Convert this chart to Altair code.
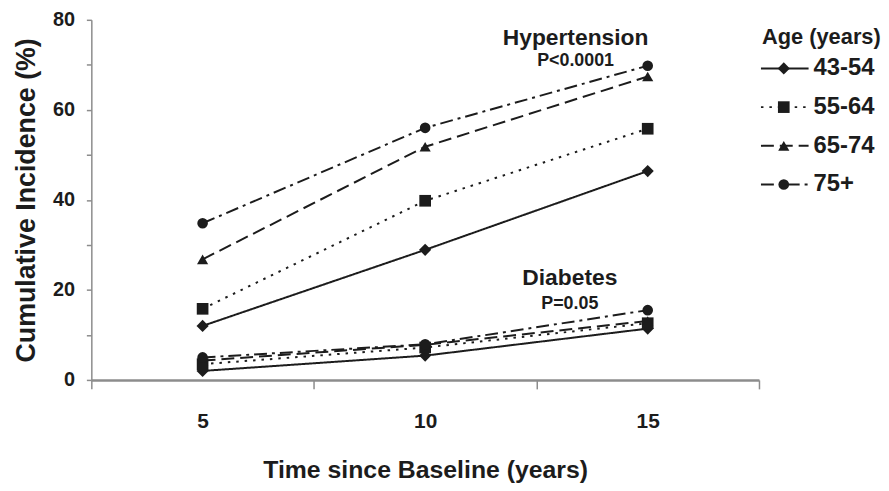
import altair as alt
import pandas as pd

# ---------------- data ----------------
ages = ["43-54", "55-64", "65-74", "75+"]
years = [5, 10, 15]
hypertension = {
    "43-54": [12.0, 28.9, 46.4],
    "55-64": [15.8, 39.8, 55.8],
    "65-74": [26.8, 51.8, 67.4],
    "75+": [34.8, 56.0, 69.8],
}
diabetes = {
    "43-54": [2.0, 5.4, 11.4],
    "55-64": [3.5, 7.2, 12.6],
    "65-74": [4.3, 7.8, 13.1],
    "75+": [5.0, 7.9, 15.5],
}
note_titles = ["Hypertension", "Diabetes"]
note_pvalues = ["P<0.0001", "P=0.05"]

rows = []
for disease, src in [("Hypertension", hypertension), ("Diabetes", diabetes)]:
    for a in ages:
        for t, v in zip(years, src[a]):
            rows.append({"disease": disease, "age": a, "year": t, "value": v})
df = pd.DataFrame(rows)

# annotation anchors (data coordinates)
notes = pd.DataFrame({
    "label": note_titles + note_pvalues,
    "kind": ["title", "title", "p", "p"],
    "x": [13.38, 13.25, 13.38, 13.25],
    "y": [74.3, 21.2, 69.7, 15.7],
})

FONT = "Liberation Sans"
INK = "#1c1c1c"
AX = "#8c8c8c"

xscale = alt.Scale(domain=[2.5, 17.5], nice=False, zero=False)
yscale = alt.Scale(domain=[0, 80], nice=False)
dash_scale = alt.Scale(domain=ages, range=[[1, 0], [2.5, 6], [13, 6], [13, 5, 3, 5]])
shape_scale = alt.Scale(domain=ages, range=["diamond", "square", "triangle-up", "circle"])
size_scale = alt.Scale(domain=ages, range=[150, 115, 120, 115])
leg_size_scale = alt.Scale(domain=ages, range=[110, 90, 95, 90])

y_axis = alt.Axis(
    values=list(range(0, 81, 10)),
    labelExpr="datum.value % 20 === 0 ? datum.label : ''",
    tickSize=5, tickColor=AX, tickWidth=1.5,
    domainColor=AX, domainWidth=1.5, grid=False,
    labelFont=FONT, labelFontSize=20, labelFontWeight="bold", labelColor=INK,
    labelPadding=12,
    title="Cumulative Incidence (%)", titleFont=FONT, titleFontSize=27,
    titleFontWeight="bold", titleColor=INK, titlePadding=12,
)


def y_enc(field):
    return alt.Y(field, scale=yscale, axis=y_axis)


lines = alt.Chart(df).mark_line(color=INK, strokeWidth=2).encode(
    x=alt.X("year:Q", scale=xscale, axis=alt.Axis(
        orient="bottom", values=[2.5, 7.5, 12.5, 17.5], labels=False,
        tickSize=9, tickColor=AX, tickWidth=1.5, domainColor=AX, domainWidth=2.5,
        grid=False, title="Time since Baseline (years)", titleFont=FONT,
        titleFontSize=25, titleFontWeight="bold", titleColor=INK, titlePadding=69)),
    y=y_enc("value:Q"),
    strokeDash=alt.StrokeDash("age:N", scale=dash_scale, legend=None),
    detail="disease:N",
)

points = alt.Chart(df).mark_point(filled=True, color=INK, opacity=1).encode(
    x=alt.X("year:Q", scale=xscale, axis=alt.Axis(
        orient="bottom", values=[5, 10, 15], ticks=False, domain=False, grid=False,
        labelFont=FONT, labelFontSize=21, labelFontWeight="bold", labelColor=INK,
        labelPadding=31, title=None)),
    y=y_enc("value:Q"),
    shape=alt.Shape("age:N", scale=shape_scale, legend=None),
    size=alt.Size("age:N", scale=size_scale, legend=None),
)

titles = alt.Chart(notes).transform_filter("datum.kind == 'title'").mark_text(
    font=FONT, fontSize=23, fontWeight="bold", color=INK, align="center", baseline="alphabetic"
).encode(
    x=alt.X("x:Q", scale=xscale, axis=None),
    y=y_enc("y:Q"),
    text="label:N",
)
pvals = alt.Chart(notes).transform_filter("datum.kind == 'p'").mark_text(
    font=FONT, fontSize=18, fontWeight="bold", color=INK, align="center", baseline="alphabetic"
).encode(
    x=alt.X("x:Q", scale=xscale, axis=None),
    y=y_enc("y:Q"),
    text="label:N",
)

main = alt.layer(lines, points, titles, pvals).resolve_axis(x="independent").properties(
    width=673, height=363
)

# ---------------- legend panel ----------------
leg_df = pd.DataFrame({"age": ages})
ly = alt.Y("age:N", scale=alt.Scale(domain=ages, type="point", range=[49, 166], padding=0), axis=None)

leg_rule = alt.Chart(leg_df).mark_rule(color=INK, strokeWidth=2).encode(
    x=alt.value(-6), x2=alt.value(42), y=ly,
    strokeDash=alt.StrokeDash("age:N", scale=dash_scale, legend=None),
)
leg_pt = alt.Chart(leg_df).mark_point(filled=True, color=INK, opacity=1).encode(
    x=alt.value(17), y=ly,
    shape=alt.Shape("age:N", scale=shape_scale, legend=None),
    size=alt.Size("age:N", scale=leg_size_scale, legend=None),
)
leg_txt = alt.Chart(leg_df).mark_text(
    align="left", baseline="middle", font=FONT, fontSize=24, fontWeight="bold", color=INK
).encode(x=alt.value(47), y=ly, text="age:N")
leg_title = alt.Chart(pd.DataFrame({"t": ["Age (years)"]})).mark_text(
    align="left", baseline="middle", font=FONT, fontSize=22, fontWeight="bold", color=INK
).encode(x=alt.value(-5), y=alt.value(17), text="t:N")

legend = alt.layer(leg_rule, leg_pt, leg_txt, leg_title).properties(width=110, height=363)

chart = alt.hconcat(main, legend, spacing=0).properties(
    padding={"left": 4, "top": 0, "right": 0, "bottom": 0},
    background="white",
).configure(font=FONT).configure_view(stroke=None)

chart.save("out.html", embed_options={"renderer": "svg", "actions": False})
